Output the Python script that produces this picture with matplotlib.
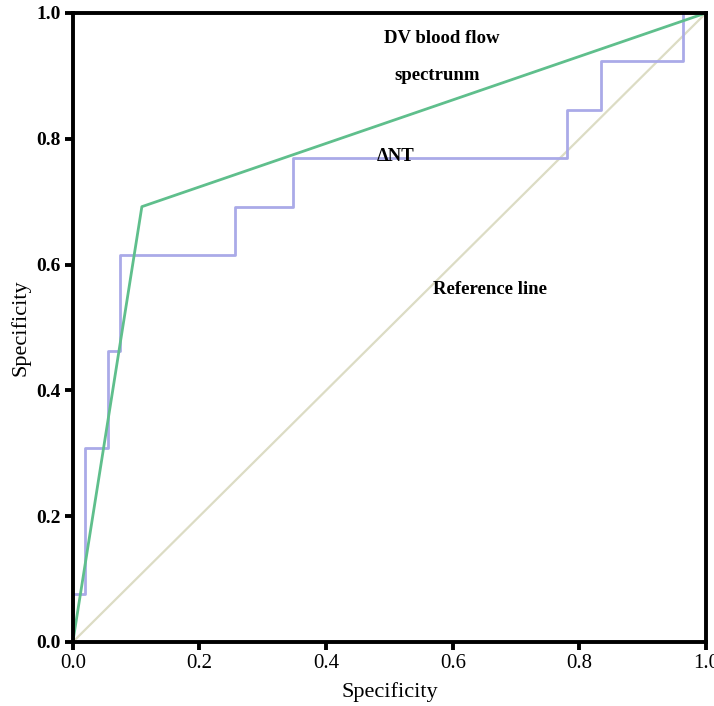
import numpy as np
import matplotlib.pyplot as plt

# data
# stepped curve (delta NT)
nt_x = [0.0, 0.0, 0.0185, 0.0185, 0.056, 0.056, 0.074, 0.074, 0.256, 0.256,
        0.347, 0.347, 0.781, 0.781, 0.834, 0.834, 0.963, 0.963]
nt_y = [0.0, 0.077, 0.077, 0.308, 0.308, 0.462, 0.462, 0.615, 0.615, 0.692,
        0.692, 0.769, 0.769, 0.846, 0.846, 0.923, 0.923, 1.0]
# DV blood flow spectrum
dv_x = [0.0, 0.109, 1.0]
dv_y = [0.0, 0.692, 1.0]
# reference diagonal
ref_x = [0.0, 1.0]
ref_y = [0.0, 1.0]

plt.rcParams['font.family'] = ['Liberation Serif', 'DejaVu Serif']

fig = plt.figure(figsize=(7.14, 7.06), dpi=100)
ax = fig.add_axes([0.102, 0.0907, 0.887, 0.891])

ax.plot(ref_x, ref_y, color='#dcdcc4', lw=1.6)
ax.plot(nt_x, nt_y, color='#aaaae8', lw=2.0)
ax.plot(dv_x, dv_y, color='#5fbf8c', lw=2.0)

ax.set_xlim(0, 1)
ax.set_ylim(0, 1)
ticks = [0.0, 0.2, 0.4, 0.6, 0.8, 1.0]
ax.set_xticks(ticks)
ax.set_yticks(ticks)
ax.set_xticklabels(['%.1f' % t for t in ticks], fontsize=15)
ax.set_yticklabels(['%.1f' % t for t in ticks], fontsize=14, fontweight='bold')

for s in ax.spines.values():
    s.set_linewidth(2.8)
    s.set_color('black')
ax.tick_params(direction='out', length=6, width=2.8, pad=3)

ax.set_xlabel('Specificity', fontsize=16, labelpad=6)
ax.set_ylabel('Specificity', fontsize=16, labelpad=4)

ax.text(0.583, 0.96, 'DV blood flow', fontsize=13.5, fontweight='bold', ha='center', va='center')
ax.text(0.575, 0.901, 'spectrunm', fontsize=13.5, fontweight='bold', ha='center', va='center')
ax.text(0.51, 0.771, '\u0394NT', fontsize=13.5, fontweight='bold', ha='center', va='center')
ax.text(0.659, 0.56, 'Reference line', fontsize=13.5, fontweight='bold', ha='center', va='center')

fig.savefig('out.png', dpi=100)
